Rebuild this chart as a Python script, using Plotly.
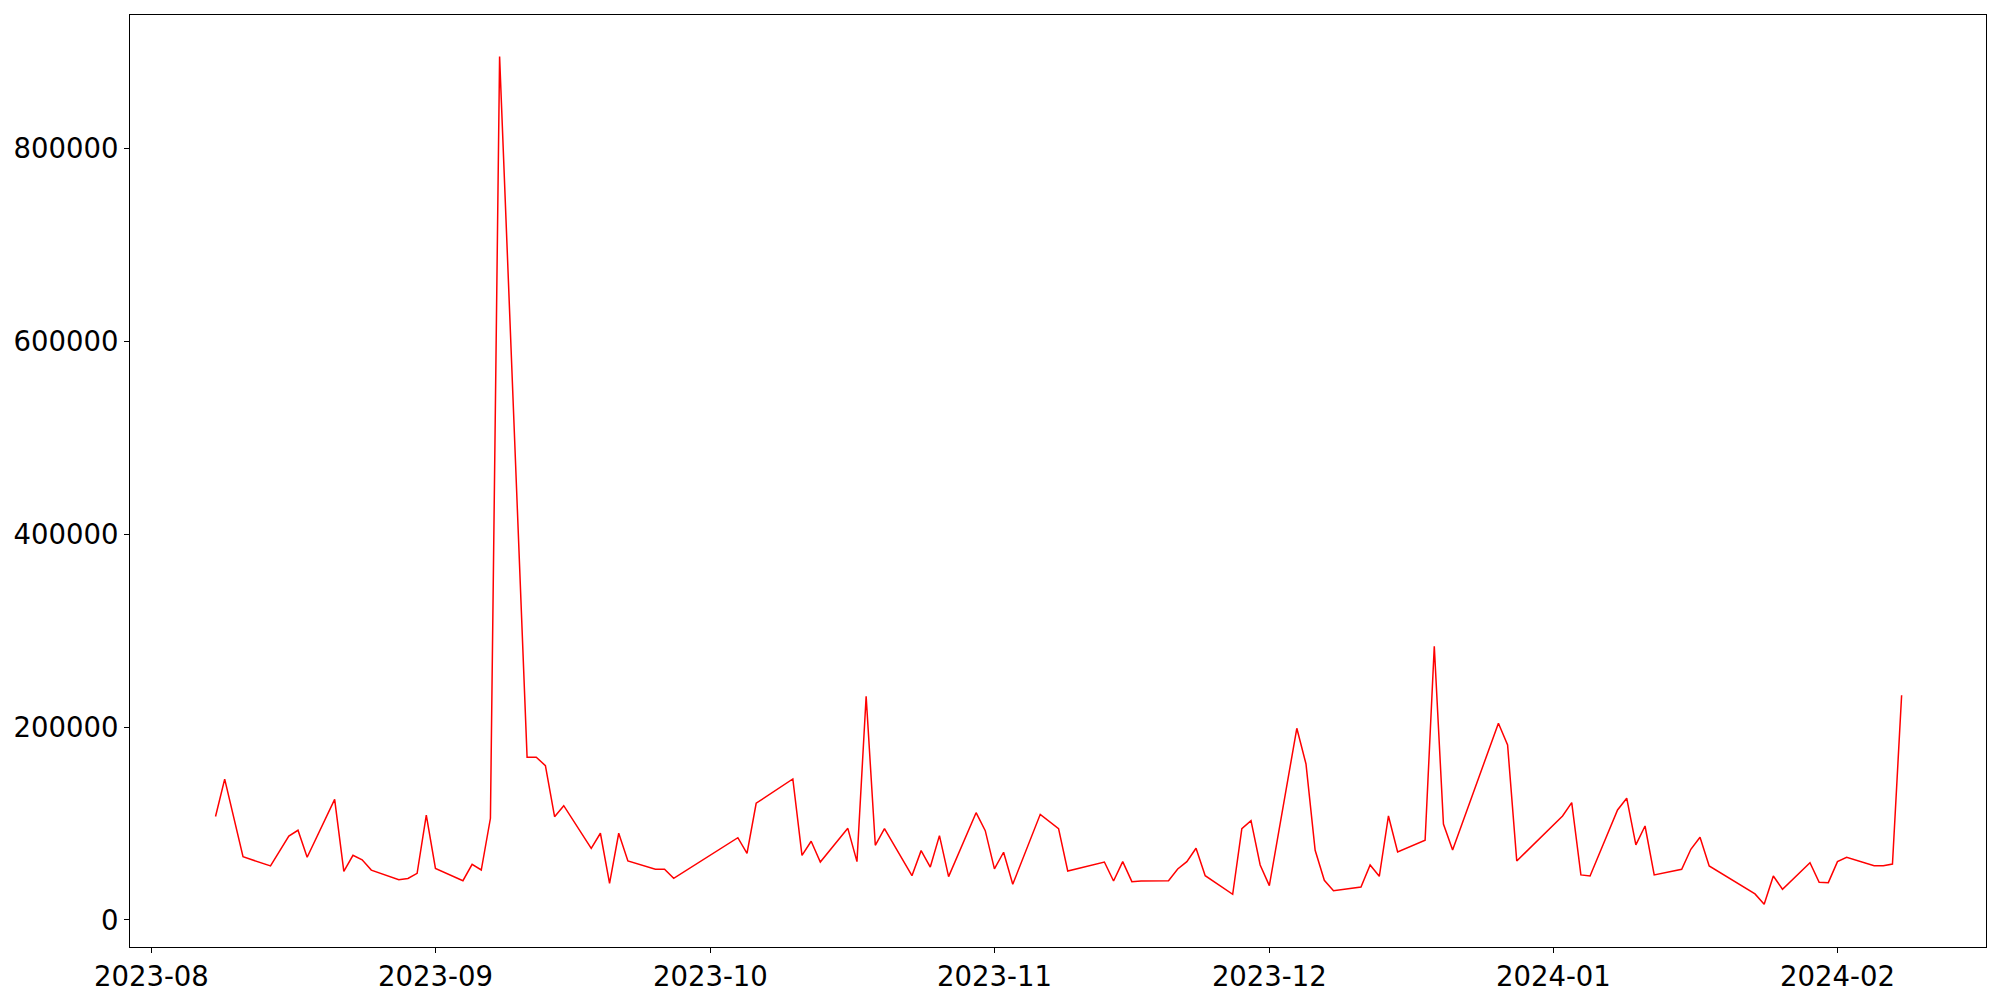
import plotly.graph_objects as go

dates = [
    "2023-08-08", "2023-08-09", "2023-08-11", "2023-08-14", "2023-08-16", "2023-08-17", "2023-08-18",
    "2023-08-21", "2023-08-22", "2023-08-23", "2023-08-24", "2023-08-25", "2023-08-28", "2023-08-29",
    "2023-08-30", "2023-08-31", "2023-09-01", "2023-09-04", "2023-09-05", "2023-09-06", "2023-09-07",
    "2023-09-08", "2023-09-11", "2023-09-12", "2023-09-13", "2023-09-14", "2023-09-15", "2023-09-18",
    "2023-09-19", "2023-09-20", "2023-09-21", "2023-09-22", "2023-09-25", "2023-09-26", "2023-09-27",
    "2023-10-04", "2023-10-05", "2023-10-06", "2023-10-10", "2023-10-11", "2023-10-12", "2023-10-13",
    "2023-10-16", "2023-10-17", "2023-10-18", "2023-10-19", "2023-10-20", "2023-10-23", "2023-10-24",
    "2023-10-25", "2023-10-26", "2023-10-27", "2023-10-30", "2023-10-31", "2023-11-01", "2023-11-02",
    "2023-11-03", "2023-11-06", "2023-11-08", "2023-11-09", "2023-11-13", "2023-11-14", "2023-11-15",
    "2023-11-16", "2023-11-17", "2023-11-20", "2023-11-21", "2023-11-22", "2023-11-23", "2023-11-24",
    "2023-11-27", "2023-11-28", "2023-11-29", "2023-11-30", "2023-12-01", "2023-12-04", "2023-12-05",
    "2023-12-06", "2023-12-07", "2023-12-08", "2023-12-11", "2023-12-12", "2023-12-13", "2023-12-14",
    "2023-12-15", "2023-12-18", "2023-12-19", "2023-12-20", "2023-12-21", "2023-12-26", "2023-12-27",
    "2023-12-28", "2024-01-02", "2024-01-03", "2024-01-04", "2024-01-05", "2024-01-08", "2024-01-09",
    "2024-01-10", "2024-01-11", "2024-01-12", "2024-01-15", "2024-01-16", "2024-01-17", "2024-01-18",
    "2024-01-23", "2024-01-24", "2024-01-25", "2024-01-26", "2024-01-29", "2024-01-30", "2024-01-31",
    "2024-02-01", "2024-02-02", "2024-02-05", "2024-02-06", "2024-02-07", "2024-02-08",
]

values = [
    107300, 146000, 65500, 56000, 87000, 93000, 65000,
    125000, 50300, 67000, 62400, 51700, 41700, 43000,
    48300, 108700, 53500, 40700, 57700, 51800, 105400,
    895000, 168700, 168700, 160000, 107100, 118500, 74300,
    89900, 38000, 89900, 61200, 52500, 52500, 43200,
    85300, 69100, 121000, 146200, 67000, 81600, 60100,
    95000, 60500, 231900, 77400, 94700, 45900, 71900,
    54900, 87400, 44900, 111200, 92600, 52900, 70200,
    37000, 109500, 94700, 50800, 60100, 40400, 60500,
    39700, 40500, 40700, 52900, 60500, 74300, 45900,
    26600, 94700, 102900, 57000, 35600, 198700, 161700,
    72200, 41100, 30400, 34200, 57000, 45300, 107800,
    70500, 82600, 283700, 99500, 72600, 203900, 181400,
    61200, 107800, 121600, 46700, 45600, 114000, 126200,
    77800, 97400, 46700, 52500, 73300, 85700, 56000,
    27000, 16300, 45600, 31800, 59400, 39000, 38700,
    60500, 65000, 56300, 56300, 58000, 233000,
]

y_ticks = [0, 200000, 400000, 600000, 800000]
y_tick_labels = ["0", "200000", "400000", "600000", "800000"]

fig = go.Figure()
fig.add_trace(go.Scatter(
    x=dates, y=values, mode="lines",
    line=dict(color="#ff0000", width=1.5),
    showlegend=False,
))

axis_common = dict(
    showline=True, linecolor="black", linewidth=1.1, mirror=True,
    ticks="outside", ticklen=5, tickwidth=1.1, tickcolor="black",
    showgrid=False, zeroline=False, automargin=False,
    tickfont=dict(family="DejaVu Sans", size=27.5, color="black"),
)

# page body has an 8px margin; compensate so the plot area lands where the reference has it
fig.update_layout(
    width=2000, height=1000,
    margin=dict(l=122, r=22, t=7, b=61, autoexpand=False),
    paper_bgcolor="white", plot_bgcolor="white",
    xaxis=dict(
        type="date",
        range=["2023-07-29 16:00", "2024-02-17 05:00"],
        tickformat="%Y-%m", dtick="M1", tick0="2023-08-01",
        **axis_common,
    ),
    yaxis=dict(
        range=[-28000, 938000],
        tickvals=y_ticks, ticktext=y_tick_labels,
        ticklabelstandoff=0,
        **axis_common,
    ),
)

fig.write_html("out.html")
